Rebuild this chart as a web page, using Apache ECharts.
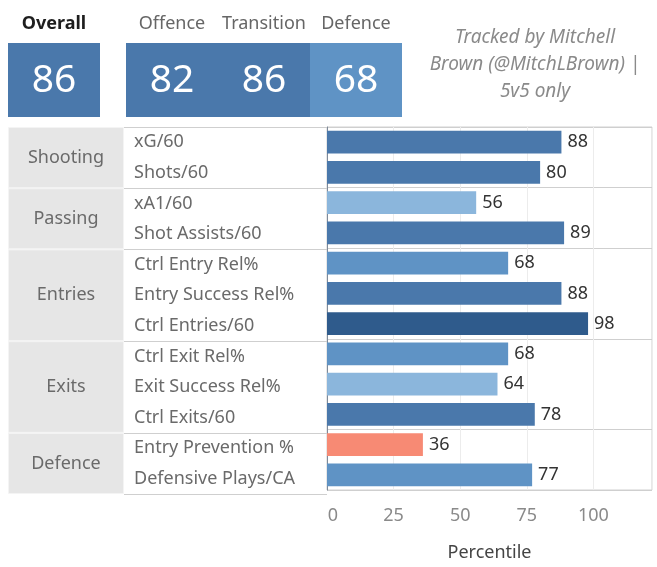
<!DOCTYPE html>
<html><head><meta charset="utf-8">
<script src="https://cdn.jsdelivr.net/npm/echarts@6/dist/echarts.min.js"></script>
<style>html,body{margin:0;padding:0;background:#fff}#c{width:657px;height:567px}</style>
</head><body><div id="c"></div>
<script>
const overallLabel = ['Overall'];
const overallScore = [86];
const splitLabels = ['Offence', 'Transition', 'Defence'];
const splitScores = [82, 86, 68];
const groupNames = ['Shooting', 'Passing', 'Entries', 'Exits', 'Defence'];
const groupSizes = [2, 2, 3, 3, 2];
const metricNames = ['xG/60', 'Shots/60', 'xA1/60', 'Shot Assists/60', 'Ctrl Entry Rel%', 'Entry Success Rel%', 'Ctrl Entries/60', 'Ctrl Exit Rel%', 'Exit Success Rel%', 'Ctrl Exits/60', 'Entry Prevention %', 'Defensive Plays/CA'];
const percentiles = [88, 80, 56, 89, 68, 88, 98, 68, 64, 78, 36, 77];
const axisTickLabels = [0, 25, 50, 75, 100];
const noteLines = ['Tracked by Mitchell', 'Brown (@MitchLBrown) |', '5v5 only'];

const FONT = 'Noto Sans';
function colorFor(v) {
  if (v < 50) return '#f78a74';
  if (v < 66) return '#8bb6dc';
  if (v < 78) return '#5f93c5';
  if (v < 90) return '#4a78ab';
  return '#2f5b8c';
}
const boundaries = new Set([0]);
let acc = 0;
groupSizes.forEach(s => { acc += s; boundaries.add(acc); });
const totalRows = acc;

function headerRender(params, api) {
  const c = api.coord([api.value(0), api.value(1)]);
  const s = api.size([1, 1]);
  const v = api.value(2);
  return {
    type: 'group', children: [
      { type: 'rect', shape: { x: c[0] - s[0] / 2, y: c[1] - s[1] / 2, width: s[0], height: s[1] }, style: { fill: colorFor(v) } },
      { type: 'text', x: c[0], y: c[1] + 1, style: { text: String(v), fill: '#fff', font: '39px "' + FONT + '"', align: 'center', verticalAlign: 'middle' } }
    ]
  };
}

const chart = echarts.init(document.getElementById('c'), null, { renderer: 'canvas' });

const groupSeries = groupNames.map((g, i) => ({
  type: 'bar', name: g, stack: 'grp', xAxisIndex: 2, yAxisIndex: 2,
  barWidth: '100%', data: [groupSizes[i]], silent: true,
  itemStyle: { color: '#e6e6e6', borderColor: '#f4f4f4', borderWidth: 1 },
  label: { show: true, position: 'inside', formatter: g, color: '#6a6a6a', fontFamily: FONT, fontSize: 18 }
}));

chart.setOption({
  animation: false,
  textStyle: { fontFamily: FONT },
  grid: [
    { left: 8, top: 43, width: 92, height: 74 },
    { left: 126, top: 43, width: 276, height: 74 },
    { left: 8, top: 127, width: 116, height: 367 },
    { left: 124, top: 127, width: 203, height: 367 },
    { left: 327, top: 127, width: 325, height: 367, show: true, borderColor: '#d0d0d0', borderWidth: 1 }
  ],
  xAxis: [
    { gridIndex: 0, type: 'category', data: overallLabel, position: 'top', axisLine: { show: false }, axisTick: { show: false },
      axisLabel: { interval: 0, color: '#1e1e1e', fontWeight: 'bold', fontSize: 18, margin: 10, fontFamily: FONT } },
    { gridIndex: 1, type: 'category', data: splitLabels, position: 'top', axisLine: { show: false }, axisTick: { show: false },
      axisLabel: { interval: 0, color: '#666', fontSize: 18, margin: 10, fontFamily: FONT } },
    { gridIndex: 2, type: 'category', data: ['g'], show: false },
    { gridIndex: 3, type: 'value', min: 0, max: 1, show: false },
    { gridIndex: 4, type: 'value', min: 0, max: 122, interval: 25,
      axisLine: { show: false }, axisTick: { show: false },
      axisLabel: { color: '#8a8a8a', fontSize: 18, margin: 17, fontFamily: FONT, showMaxLabel: false,
        formatter: v => v === 0 ? '{z|0}' : (axisTickLabels.indexOf(v) >= 0 ? String(v) : ''),
        rich: { z: { color: '#8a8a8a', fontSize: 18, fontFamily: FONT, padding: [0, 0, 0, 12] } } },
      splitLine: { show: true, lineStyle: { color: '#ececec' } },
      name: 'Percentile', nameLocation: 'middle', nameGap: 54,
      nameTextStyle: { color: '#444', fontSize: 18, fontFamily: FONT } }
  ],
  yAxis: [
    { gridIndex: 0, type: 'category', data: [''], show: false },
    { gridIndex: 1, type: 'category', data: [''], show: false },
    { gridIndex: 2, type: 'value', min: 0, max: totalRows, inverse: true, show: false },
    { gridIndex: 3, type: 'category', data: metricNames, inverse: true,
      axisLine: { show: false }, axisTick: { show: false },
      axisLabel: { inside: true, margin: 10, color: '#6a6a6a', fontSize: 18, fontFamily: FONT },
      splitLine: { show: true, interval: (i) => boundaries.has(i), lineStyle: { color: '#cfcfcf' } } },
    { gridIndex: 4, type: 'category', data: metricNames, inverse: true,
      axisLine: { show: true, lineStyle: { color: '#7f8a99' } }, axisTick: { show: false },
      axisLabel: { show: false },
      splitLine: { show: true, interval: (i) => boundaries.has(i), lineStyle: { color: '#cfcfcf' } } }
  ],
  series: [
    { type: 'custom', xAxisIndex: 0, yAxisIndex: 0, renderItem: headerRender, silent: true,
      encode: { x: 0, y: 1 }, data: overallScore.map((v, i) => [i, 0, v]) },
    { type: 'custom', xAxisIndex: 1, yAxisIndex: 1, renderItem: headerRender, silent: true,
      encode: { x: 0, y: 1 }, data: splitScores.map((v, i) => [i, 0, v]) },
    ...groupSeries,
    { type: 'scatter', xAxisIndex: 3, yAxisIndex: 3, data: [], silent: true },
    { type: 'bar', xAxisIndex: 4, yAxisIndex: 4, data: percentiles, barWidth: '75%', silent: true,
      itemStyle: { color: p => colorFor(p.value) },
      label: { show: true, position: 'right', distance: 6, color: '#333', fontSize: 18, fontFamily: FONT } }
  ],
  graphic: [
    { type: 'text', x: 535, y: 65, silent: true,
      style: { text: noteLines.join('\n'), fill: '#8a8a8a', font: 'italic 19px "' + FONT + '"', align: 'center', verticalAlign: 'middle', lineHeight: 27 } }
  ]
});
</script>
</body></html>
